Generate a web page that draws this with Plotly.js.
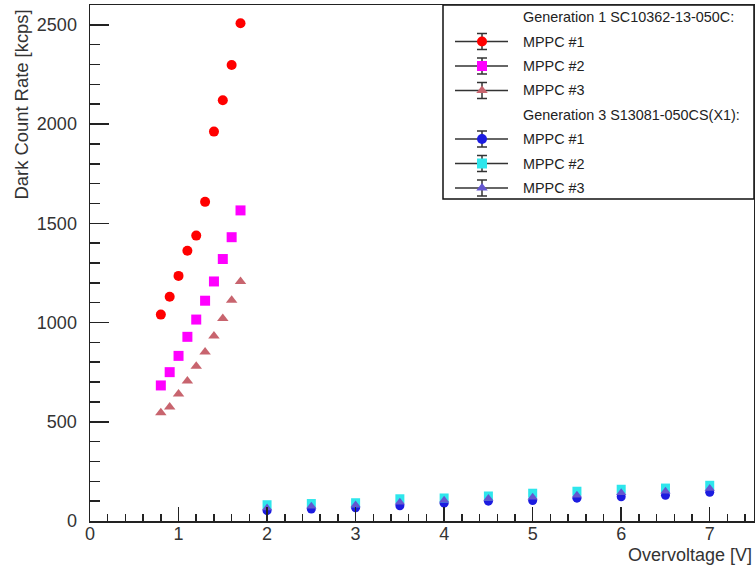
<!DOCTYPE html>
<html>
<head>
<meta charset="utf-8">
<script src="https://cdn.plot.ly/plotly-3.0.1.min.js"></script>
<style>html,body{margin:0;padding:0;background:#fff;}#chart{width:755px;height:568px;}</style>
</head>
<body>
<div id="chart"></div>
<script>
// ---- data ----
const gen1X = [0.8, 0.9, 1.0, 1.1, 1.2, 1.3, 1.4, 1.5, 1.6, 1.7];
const gen1Mppc1 = [1040, 1130, 1235, 1362, 1438, 1608, 1962, 2120, 2298, 2508];
const gen1Mppc2 = [683, 750, 832, 928, 1015, 1110, 1207, 1320, 1430, 1565];
const gen1Mppc3 = [545, 575, 640, 706, 780, 852, 932, 1020, 1112, 1207];

const gen3X = [2.0, 2.5, 3.0, 3.5, 4.0, 4.5, 5.0, 5.5, 6.0, 6.5, 7.0];
const gen3Mppc1 = [52, 60, 67, 77, 90, 100, 103, 115, 122, 130, 145];
const gen3Mppc2 = [82, 88, 92, 112, 116, 126, 140, 150, 160, 166, 180];
const gen3Mppc3 = [65, 74, 80, 95, 104, 114, 120, 130, 142, 150, 164];

const groupTitles = ["Generation 1 SC10362-13-050C:", "Generation 3 S13081-050CS(X1):"];
const seriesNames = ["MPPC #1", "MPPC #2", "MPPC #3"];

const xTitle = "Overvoltage [V]";
const yTitle = "Dark Count Rate [kcps]";

// ---- styles ----
const gen1Styles = [
  {symbol: "circle", color: "#ff0000"},
  {symbol: "square", color: "#ff00ff"},
  {symbol: "triangle-up", color: "#c8646e"}
];
const gen3Styles = [
  {symbol: "circle", color: "#1c1ce0"},
  {symbol: "square", color: "#2ee6ec"},
  {symbol: "triangle-up", color: "#6456d0"}
];

const W = 755, H = 568;
const M = {l: 90, r: 1, t: 5, b: 47};
const PW = W - M.l - M.r, PH = H - M.t - M.b;
const px = v => (v - M.l) / PW;        // pixel x -> paper
const py = v => (H - M.b - v) / PH;    // pixel y -> paper

const gen1Series = [gen1Mppc1, gen1Mppc2, gen1Mppc3];
const gen3Series = [gen3Mppc1, gen3Mppc2, gen3Mppc3];

const traces = [];
gen1Series.forEach((ys, i) => traces.push({
  x: gen1X, y: ys, type: "scatter", mode: "markers", showlegend: false,
  marker: {symbol: gen1Styles[i].symbol, color: gen1Styles[i].color, size: 10, line: {width: 0}},
  cliponaxis: false
}));
gen3Series.forEach((ys, i) => traces.push({
  x: gen3X, y: ys, type: "scatter", mode: "markers", showlegend: false,
  marker: {symbol: gen3Styles[i].symbol, color: gen3Styles[i].color, size: 9, line: {width: 0}},
  cliponaxis: false
}));

// ---- custom legend (ROOT style) ----
const rowY = [17, 41.5, 66, 90.5, 115, 139, 163.5, 188];
const iconX0 = 455, iconX1 = 508, iconXC = 482, textX = 521;
const shapes = [];
const annotations = [];
shapes.push({type: "rect", xref: "paper", yref: "paper",
  x0: px(443), x1: px(754), y0: py(199), y1: py(5),
  line: {color: "#111", width: 1.5}, fillcolor: "rgba(0,0,0,0)", layer: "below"});

const legendMarkers = {x: [], y: [], symbol: [], color: []};
let row = 0;
[[groupTitles[0], gen1Styles], [groupTitles[1], gen3Styles]].forEach(([title, styles]) => {
  annotations.push({xref: "paper", yref: "paper", x: px(textX), y: py(rowY[row]),
    xanchor: "left", yanchor: "middle", text: title, showarrow: false,
    font: {size: 14.4, color: "#222"}});
  row++;
  styles.forEach((st, i) => {
    const yy = rowY[row];
    shapes.push({type: "line", xref: "paper", yref: "paper", x0: px(iconX0), x1: px(iconX1),
      y0: py(yy), y1: py(yy), line: {color: "#333", width: 1.5}, layer: "below"});
    shapes.push({type: "line", xref: "paper", yref: "paper", x0: px(iconXC), x1: px(iconXC),
      y0: py(yy - 8), y1: py(yy + 8), line: {color: "#333", width: 1.5}, layer: "below"});
    [yy - 8, yy + 8].forEach(c => shapes.push({type: "line", xref: "paper", yref: "paper",
      x0: px(iconXC - 5), x1: px(iconXC + 5), y0: py(c), y1: py(c),
      line: {color: "#333", width: 1.5}, layer: "below"}));
    legendMarkers.x.push(px(iconXC));
    legendMarkers.y.push(py(yy));
    legendMarkers.symbol.push(st.symbol);
    legendMarkers.color.push(st.color);
    annotations.push({xref: "paper", yref: "paper", x: px(textX), y: py(yy),
      xanchor: "left", yanchor: "middle", text: seriesNames[i], showarrow: false,
      font: {size: 14.4, color: "#222"}});
    row++;
  });
});
traces.push({x: legendMarkers.x, y: legendMarkers.y, xaxis: "x2", yaxis: "y2",
  type: "scatter", mode: "markers", showlegend: false, hoverinfo: "skip", cliponaxis: false,
  marker: {symbol: legendMarkers.symbol, color: legendMarkers.color, size: 10, line: {width: 0}}});

// axis titles (ROOT style: right/top aligned)
annotations.push({xref: "paper", yref: "paper", x: px(754), y: py(543), xanchor: "right", yanchor: "top",
  text: xTitle, showarrow: false, font: {size: 18, color: "#333"}});
annotations.push({xref: "paper", yref: "paper", x: px(8), y: py(8), xanchor: "left", yanchor: "top",
  text: yTitle, textangle: -90, showarrow: false, font: {size: 18.4, color: "#333"}});

const layout = {
  width: W, height: H,
  margin: M,
  paper_bgcolor: "#fff", plot_bgcolor: "#fff",
  font: {family: "Liberation Sans, Arial, sans-serif", color: "#333"},
  showlegend: false,
  xaxis: {
    range: [0, 7.5], dtick: 1, tick0: 0, showgrid: false, zeroline: false,
    ticks: "inside", ticklen: 14, tickwidth: 1.5, tickcolor: "#222",
    minor: {dtick: 0.2, ticks: "inside", ticklen: 7, tickwidth: 1.5, tickcolor: "#222", showgrid: false},
    showline: true, mirror: true, linecolor: "#222", linewidth: 1.5,
    tickfont: {size: 18, color: "#333"}, ticklabelstandoff: -4
  },
  yaxis: {
    range: [0, 2600], dtick: 500, tick0: 0, showgrid: false, zeroline: false,
    ticks: "inside", ticklen: 19, tickwidth: 1.5, tickcolor: "#222",
    minor: {dtick: 100, ticks: "inside", ticklen: 10, tickwidth: 1.5, tickcolor: "#222", showgrid: false},
    showline: true, mirror: true, linecolor: "#222", linewidth: 1.5,
    tickfont: {size: 18, color: "#333"}, ticklabelstandoff: 8
  },
  xaxis2: {overlaying: "x", anchor: "y2", range: [0, 1], visible: false, fixedrange: true},
  yaxis2: {overlaying: "y", anchor: "x2", range: [0, 1], visible: false, fixedrange: true},
  shapes: shapes,
  annotations: annotations
};

Plotly.newPlot("chart", traces, layout, {displayModeBar: false, staticPlot: true});
</script>
</body>
</html>
